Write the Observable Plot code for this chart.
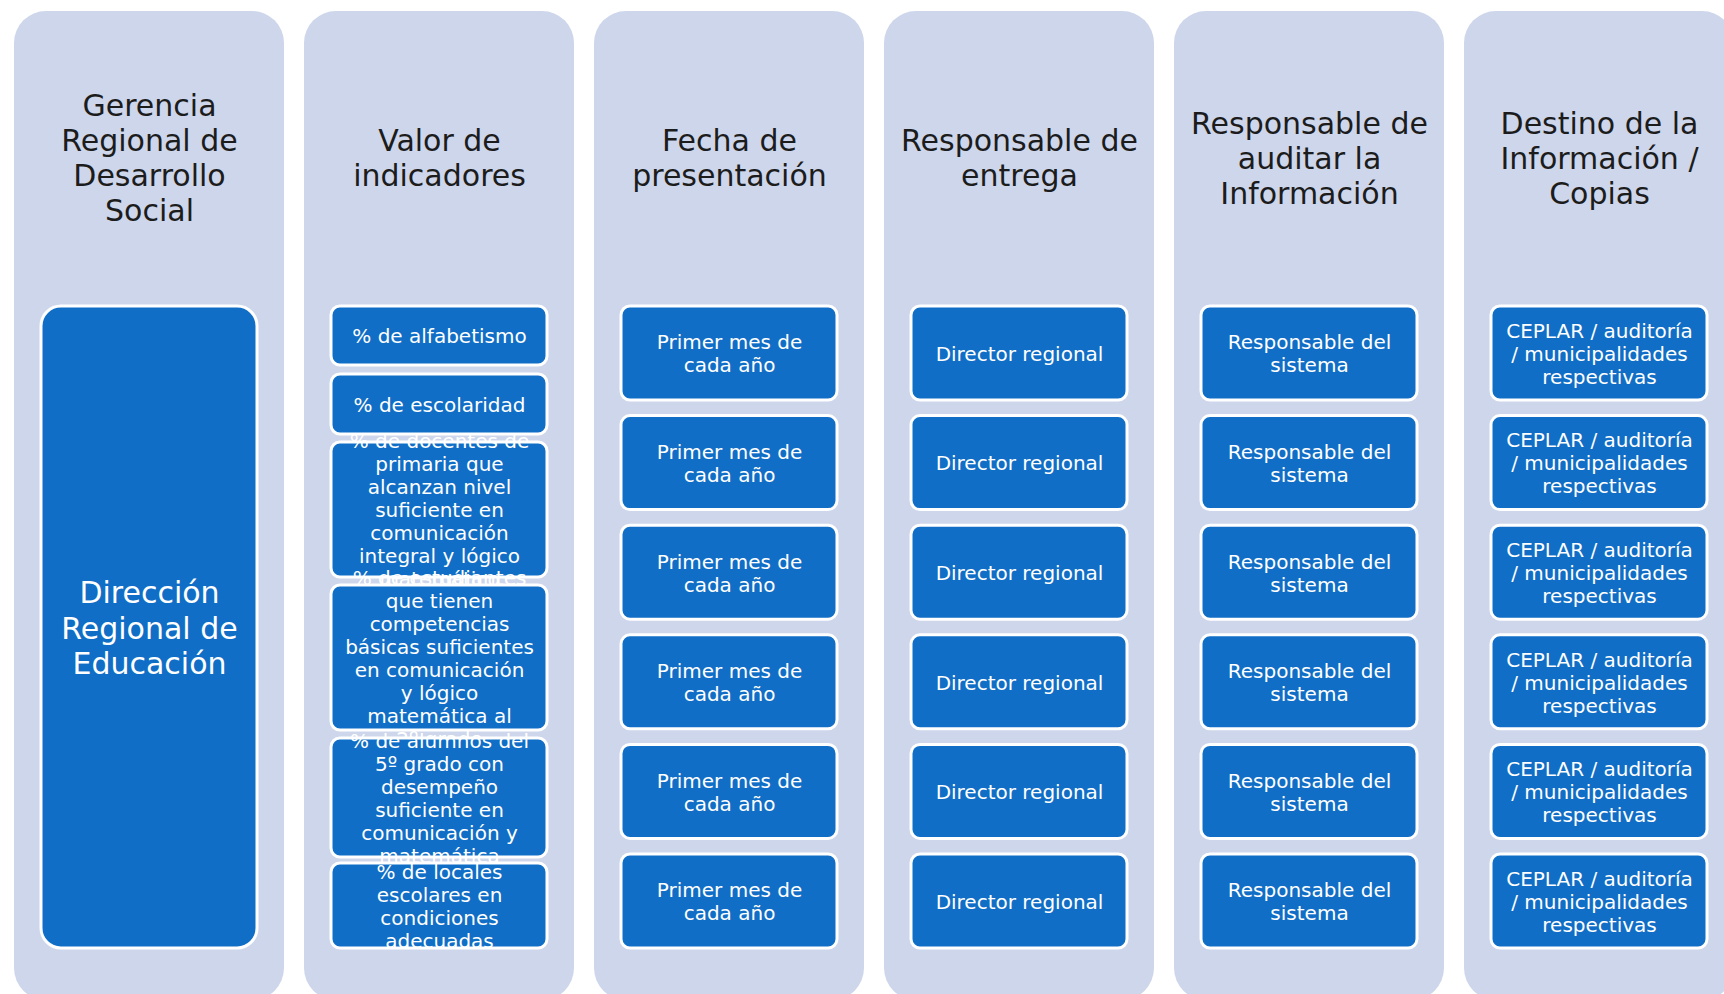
<!DOCTYPE html>
<html>
<head>
<meta charset="utf-8">
<script src="https://cdn.jsdelivr.net/npm/d3@7"></script>
<script src="https://cdn.jsdelivr.net/npm/@observablehq/plot@0.6"></script>
<style>
  html, body { margin: 0; padding: 0; background: #ffffff; overflow: hidden; }
  #chart svg { display: block; }
  #chart svg text { font-family: "DejaVu Sans", sans-serif; }
</style>
</head>
<body>
<div id="chart"></div>
<script>
// ---------- DATA ----------
const headers = [
  "Gerencia\nRegional de\nDesarrollo\nSocial",
  "Valor de\nindicadores",
  "Fecha de\npresentación",
  "Responsable de\nentrega",
  "Responsable de\nauditar la\nInformación",
  "Destino de la\nInformación /\nCopias"
];
const gerencia = ["Dirección\nRegional de\nEducación"];
const indicadores = [
  "% de alfabetismo",
  "% de escolaridad",
  "% de docentes de\nprimaria que\nalcanzan nivel\nsuficiente en\ncomunicación\nintegral y lógico\nmatemático",
  "% de estudiantes\nque tienen\ncompetencias\nbásicas suficientes\nen comunicación\ny lógico\nmatemática al\n2º grado",
  "% de alumnos del\n5º grado con\ndesempeño\nsuficiente en\ncomunicación y\nmatemática",
  "% de locales\nescolares en\ncondiciones\nadecuadas"
];
const fechas = [
  "Primer mes de\ncada año", "Primer mes de\ncada año", "Primer mes de\ncada año",
  "Primer mes de\ncada año", "Primer mes de\ncada año", "Primer mes de\ncada año"
];
const responsables = [
  "Director regional", "Director regional", "Director regional",
  "Director regional", "Director regional", "Director regional"
];
const auditores = [
  "Responsable del\nsistema", "Responsable del\nsistema", "Responsable del\nsistema",
  "Responsable del\nsistema", "Responsable del\nsistema", "Responsable del\nsistema"
];
const destinos = [
  "CEPLAR / auditoría\n/ municipalidades\nrespectivas", "CEPLAR / auditoría\n/ municipalidades\nrespectivas",
  "CEPLAR / auditoría\n/ municipalidades\nrespectivas", "CEPLAR / auditoría\n/ municipalidades\nrespectivas",
  "CEPLAR / auditoría\n/ municipalidades\nrespectivas", "CEPLAR / auditoría\n/ municipalidades\nrespectivas"
];
const columnItems = [gerencia, indicadores, fechas, responsables, auditores, destinos];

// ---------- LAYOUT & STYLE ----------
const W = 1724, H = 994;
const BG = "#CDD6EB", BLUE = "#106EC6", HEAD = "#1c1c1c";
const COL_TOP = 11, COL_BOTTOM = 1000, HEADER_Y = 157;
const INNER_TOP = 306, INNER_BOTTOM = 948;
const IND_EXTENTS = [[306, 365], [374, 434], [442, 577], [585, 730], [738, 857], [863, 948]];
const ROW_H = 94, ROW_STEP = 109.6;

function extents(ci, n) {
  if (ci === 0) return [[INNER_TOP, INNER_BOTTOM]];
  if (ci === 1) return IND_EXTENTS;
  return d3.range(n).map(i => [INNER_TOP + i * ROW_STEP, INNER_TOP + i * ROW_STEP + ROW_H]);
}

const marks = [];
// column backgrounds
marks.push(Plot.barY(headers, {x: d => d, y1: COL_TOP, y2: COL_BOTTOM, fill: BG, rx: 32}));
// headers
marks.push(Plot.text(headers, {
  x: d => d, y: HEADER_Y, text: d => d, fontSize: 30, lineHeight: 1.17,
  fill: HEAD, textAnchor: "middle", lineAnchor: "middle"
}));
// inner boxes
columnItems.forEach((items, ci) => {
  const ext = extents(ci, items.length);
  items.forEach((t, i) => {
    const d = {col: headers[ci], text: t, y1: ext[i][0], y2: ext[i][1]};
    const big = ci === 0;
    marks.push(Plot.barY([d], {
      x: "col", y1: "y1", y2: "y2", fill: BLUE, stroke: "#ffffff", strokeWidth: 3,
      insetLeft: 27, insetRight: 27, rx: big ? 20 : 9
    }));
    marks.push(Plot.text([d], {
      x: "col", y: e => (e.y1 + e.y2) / 2, text: "text",
      fontSize: big ? 30 : 20, lineHeight: big ? 1.18 : 1.15,
      fill: "#ffffff", textAnchor: "middle", lineAnchor: "middle"
    }));
  });
});

const chart = Plot.plot({
  width: W, height: H,
  margin: 0,
  style: {background: "#ffffff", overflow: "hidden"},
  x: {type: "band", domain: headers, range: [11, 1737], paddingInner: 0.0687, paddingOuter: 0, axis: null},
  y: {type: "linear", domain: [0, H], range: [0, H], axis: null},
  marks
});
document.getElementById("chart").append(chart);
</script>
</body>
</html>
